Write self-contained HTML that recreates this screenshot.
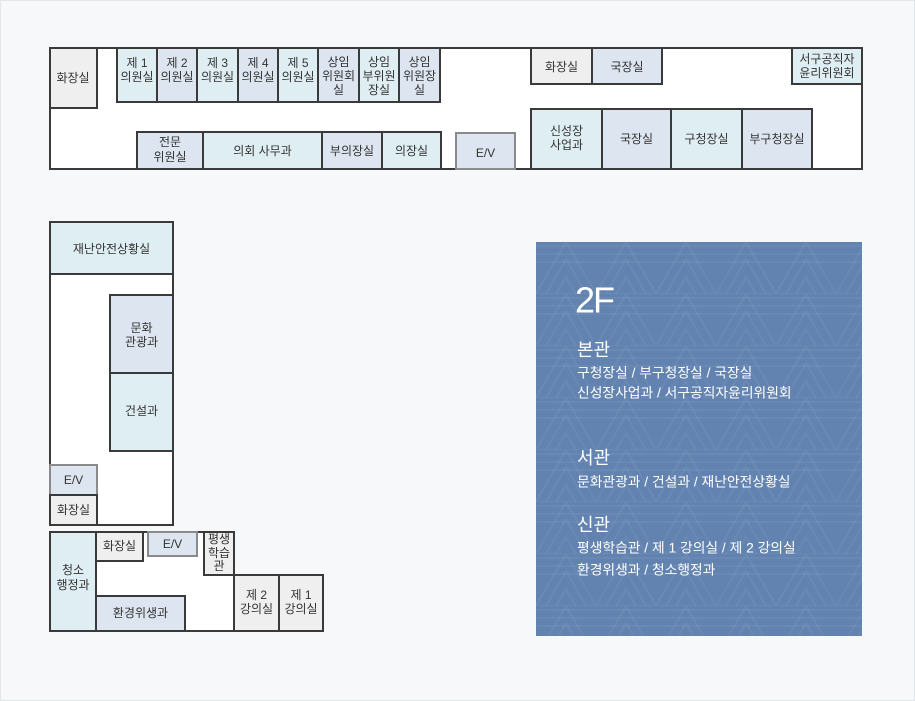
<!DOCTYPE html>
<html>
<head>
<meta charset="utf-8">
<style>
  html,body{margin:0;padding:0;}
  body{width:915px;height:701px;background:#f7f8fa;overflow:hidden;}
  svg{display:block;}
  text{font-family:"Liberation Sans","Noto Sans CJK KR",sans-serif;}
</style>
</head>
<body>
<svg width="915" height="701" viewBox="0 0 915 701" xmlns="http://www.w3.org/2000/svg">
  <defs>
    <pattern id="tri" x="536" y="242" width="60" height="52" patternUnits="userSpaceOnUse">
      <g fill="none" stroke="#ffffff" stroke-opacity="0.045" stroke-width="2">
        <path d="M0,52 L30,0 L60,52 Z"/>
        <path d="M10,52 L30,17 L50,52"/>
        <path d="M20,52 L30,35 L40,52"/>
        <path d="M0,4 H60 M0,12 H60 M0,20 H60"/>
      </g>
    </pattern>
  </defs>

  <!-- page frame -->
  <rect x="0.5" y="0.5" width="914" height="700" fill="#f7f8fa" stroke="#e2e5e9" stroke-width="1"/>

  <g stroke="#3a3a3a" stroke-width="2" font-size="12" fill="#333" text-anchor="middle" dominant-baseline="central">
    <!-- ===== MAIN BUILDING ===== -->
    <rect x="50" y="48" width="812" height="121" fill="#ffffff"/>

    <!-- top row -->
    <rect x="50" y="48" width="47" height="60" fill="#efefef"/>
    <rect x="117" y="48" width="40" height="54" fill="#dfeef3"/>
    <rect x="157" y="48" width="40" height="54" fill="#dde6f0"/>
    <rect x="197" y="48" width="41" height="54" fill="#dfeef3"/>
    <rect x="238" y="48" width="40" height="54" fill="#dde6f0"/>
    <rect x="278" y="48" width="40" height="54" fill="#dfeef3"/>
    <rect x="318" y="48" width="41" height="54" fill="#dde6f0"/>
    <rect x="359" y="48" width="40" height="54" fill="#dfeef3"/>
    <rect x="399" y="48" width="41" height="54" fill="#dde6f0"/>

    <rect x="531" y="48" width="61" height="36" fill="#efefef"/>
    <rect x="592" y="48" width="70" height="36" fill="#dde6f0"/>
    <rect x="792" y="48" width="70" height="36" fill="#dfeef3"/>

    <!-- bottom row -->
    <rect x="137" y="132" width="66" height="37" fill="#dde6f0"/>
    <rect x="203" y="132" width="119" height="37" fill="#dfeef3"/>
    <rect x="322" y="132" width="60" height="37" fill="#dde6f0"/>
    <rect x="382" y="132" width="59" height="37" fill="#dfeef3"/>
    <rect x="456" y="133" width="59" height="36" fill="#dde6f0" stroke="#8a8a8a"/>

    <rect x="531" y="109" width="71" height="60" fill="#dfeef3"/>
    <rect x="602" y="109" width="69" height="60" fill="#dde6f0"/>
    <rect x="671" y="109" width="71" height="60" fill="#dfeef3"/>
    <rect x="742" y="109" width="70" height="60" fill="#dde6f0"/>

    <!-- ===== WEST BUILDING ===== -->
    <rect x="50" y="222" width="123" height="303" fill="#ffffff"/>
    <rect x="50" y="222" width="123" height="52" fill="#dfeef3"/>
    <rect x="110" y="295" width="63" height="78" fill="#dde6f0"/>
    <rect x="110" y="373" width="63" height="78" fill="#dfeef3"/>
    <rect x="50" y="465" width="47" height="30" fill="#dde6f0" stroke="#8a8a8a"/>
    <rect x="50" y="495" width="47" height="30" fill="#efefef"/>

    <!-- ===== SOUTH BUILDING ===== -->
    <path d="M50,532 H234 V631 H50 Z" fill="#ffffff"/>
    <rect x="50" y="532" width="46" height="99" fill="#dfeef3"/>
    <rect x="96" y="532" width="47" height="29" fill="#efefef"/>
    <rect x="148" y="532" width="49" height="24" fill="#dde6f0" stroke="#8a8a8a"/>
    <rect x="204" y="532" width="30" height="43" fill="#efefef"/>
    <rect x="96" y="596" width="89" height="35" fill="#dde6f0"/>
    <rect x="234" y="575" width="45" height="56" fill="#efefef"/>
    <rect x="279" y="575" width="44" height="56" fill="#efefef"/>
  </g>

  <!-- ===== LABELS ===== -->
  <g font-size="12" fill="#333" text-anchor="middle" dominant-baseline="central">
    <text x="73" y="78">화장실</text>

    <text x="137" y="63">제 1</text><text x="137" y="77">의원실</text>
    <text x="177" y="63">제 2</text><text x="177" y="77">의원실</text>
    <text x="217.5" y="63">제 3</text><text x="217.5" y="77">의원실</text>
    <text x="258" y="63">제 4</text><text x="258" y="77">의원실</text>
    <text x="298" y="63">제 5</text><text x="298" y="77">의원실</text>
    <text x="338.5" y="62">상임</text><text x="338.5" y="76">위원회</text><text x="338.5" y="90">실</text>
    <text x="379" y="62">상임</text><text x="379" y="76">부위원</text><text x="379" y="90">장실</text>
    <text x="419.5" y="62">상임</text><text x="419.5" y="76">위원장</text><text x="419.5" y="90">실</text>

    <text x="170" y="142">전문</text><text x="170" y="157">위원실</text>
    <text x="262.5" y="151">의회 사무과</text>
    <text x="352" y="151">부의장실</text>
    <text x="411.5" y="151">의장실</text>
    <text x="485.5" y="153">E/V</text>

    <text x="561.5" y="67">화장실</text>
    <text x="627" y="67">국장실</text>
    <text x="827" y="59">서구공직자</text><text x="827" y="73">윤리위원회</text>

    <text x="566.5" y="131">신성장</text><text x="566.5" y="145">사업과</text>
    <text x="636.5" y="139">국장실</text>
    <text x="706.5" y="139">구청장실</text>
    <text x="777" y="139">부구청장실</text>

    <text x="111.5" y="249">재난안전상황실</text>
    <text x="141.5" y="328">문화</text><text x="141.5" y="342">관광과</text>
    <text x="141.5" y="411">건설과</text>
    <text x="73.5" y="480">E/V</text>
    <text x="73.5" y="510">화장실</text>

    <text x="73" y="570">청소</text><text x="73" y="585">행정과</text>
    <text x="119.5" y="546">화장실</text>
    <text x="172.5" y="544">E/V</text>
    <text x="219" y="539">평생</text><text x="219" y="553">학습</text><text x="219" y="566">관</text>
    <text x="140.5" y="613">환경위생과</text>
    <text x="256.5" y="595">제 2</text><text x="256.5" y="609">강의실</text>
    <text x="301" y="595">제 1</text><text x="301" y="609">강의실</text>
  </g>

  <!-- ===== LEGEND PANEL ===== -->
  <rect x="536" y="242" width="326" height="394" fill="#6283b0"/>
  <rect x="536" y="242" width="326" height="394" fill="url(#tri)"/>
  <g fill="#ffffff" dominant-baseline="central">
    <text x="575" y="300" font-size="36" letter-spacing="-2">2F</text>
    <text x="577" y="350" font-size="18">본관</text>
    <text x="577" y="373" font-size="13.8">구청장실 / 부구청장실 / 국장실</text>
    <text x="577" y="393" font-size="13.8">신성장사업과 / 서구공직자윤리위원회</text>
    <text x="577" y="458" font-size="18">서관</text>
    <text x="577" y="482" font-size="13.8">문화관광과 / 건설과 / 재난안전상황실</text>
    <text x="577" y="525" font-size="18">신관</text>
    <text x="577" y="548" font-size="13.8">평생학습관 / 제 1 강의실 / 제 2 강의실</text>
    <text x="577" y="570" font-size="13.8">환경위생과 / 청소행정과</text>
  </g>
</svg>
</body>
</html>
